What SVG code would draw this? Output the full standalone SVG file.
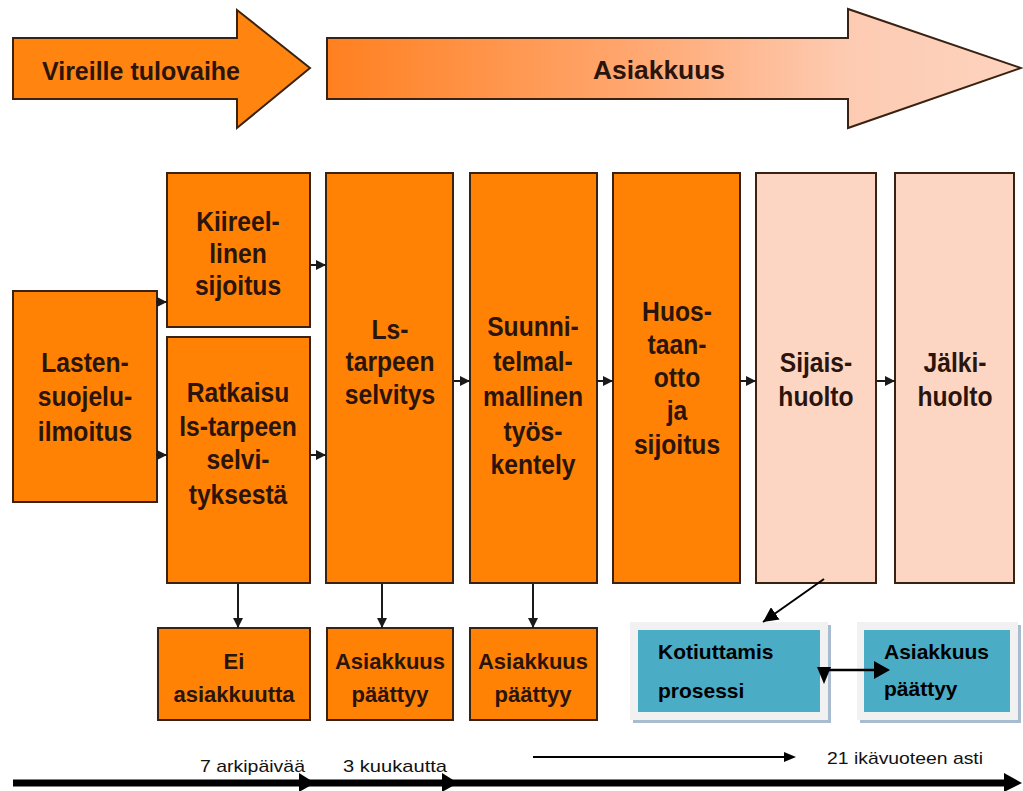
<svg xmlns="http://www.w3.org/2000/svg" width="1023" height="791" viewBox="0 0 1023 791">
<defs>
<linearGradient id="gAsi" x1="327" y1="0" x2="1022" y2="0" gradientUnits="userSpaceOnUse">
<stop offset="0" stop-color="#FF8020"/>
<stop offset="0.45" stop-color="#FFA872"/>
<stop offset="0.75" stop-color="#FDCBB2"/>
<stop offset="1" stop-color="#FDD3BF"/>
</linearGradient>
<marker id="ah" viewBox="0 0 10 10" refX="10" refY="5" markerWidth="10" markerHeight="10" markerUnits="userSpaceOnUse" orient="auto">
<path d="M0,0 L10,5 L0,10 z" fill="#1a1a1a"/>
</marker>
<marker id="ahL" viewBox="0 0 10 10" refX="10" refY="5" markerWidth="15" markerHeight="15" markerUnits="userSpaceOnUse" orient="auto">
<path d="M0,0 L10,5 L0,10 z" fill="#000"/>
</marker>
</defs>
<style>
.big{fill:#FF8205;stroke:#3a2212;stroke-width:2}
.pale{fill:#FDD6C3;stroke:#3a2212;stroke-width:2}
.t{font-family:"Liberation Sans",Arial,sans-serif;font-weight:bold;font-size:25px;fill:#2a140c;text-anchor:middle}
.tn{font-family:"Liberation Sans",Arial,sans-serif;font-weight:bold;font-size:28px;fill:#2a140c;text-anchor:middle}
.ts{font-family:"Liberation Sans",Arial,sans-serif;font-weight:bold;font-size:22px;fill:#2a140c;text-anchor:middle}
.tb{font-family:"Liberation Sans",Arial,sans-serif;font-weight:bold;font-size:21px;fill:#000}
.tl{font-family:"Liberation Sans",Arial,sans-serif;font-size:17px;fill:#111}
.c{stroke:#1a1a1a;stroke-width:2;fill:none}
.frame{fill:#F1F1F1}
.shadow{fill:#A9BCCF}
.blue{fill:#4BACC6}
</style>
<rect width="1023" height="791" fill="#fff"/>

<g id="phase-vireille">
<path d="M13,38 L237,38 L237,10 L310,68 L237,128 L237,99 L13,99 Z" fill="#FF8410" stroke="#3a2212" stroke-width="2"/>
<text x="141" y="80" class="t" textLength="198" lengthAdjust="spacingAndGlyphs">Vireille tulovaihe</text>
</g>
<g id="phase-asiakkuus">
<path d="M327,38 L848,38 L848,9 L1021,68 L848,128 L848,99 L327,99 Z" fill="url(#gAsi)" stroke="#3a2212" stroke-width="2"/>
<text x="659" y="79" class="t" font-size="26" textLength="132" lengthAdjust="spacingAndGlyphs">Asiakkuus</text>
</g>

<g id="lasten">
<rect x="13" y="291" width="144" height="211" class="big"/>
<text class="tn" transform="matrix(0.88,0,0,1,10.2,0)"><tspan x="85" y="372">Lasten-</tspan><tspan x="85" y="406">suojelu-</tspan><tspan x="85" y="441">ilmoitus</tspan></text>
</g>
<g id="kiireellinen">
<rect x="167" y="173" width="143" height="154" class="big"/>
<text class="tn" transform="matrix(0.88,0,0,1,28.56,0)"><tspan x="238" y="231">Kiireel-</tspan><tspan x="238" y="263">linen</tspan><tspan x="238" y="295">sijoitus</tspan></text>
</g>
<g id="ratkaisu">
<rect x="167" y="337" width="143" height="246" class="big"/>
<text class="tn" transform="matrix(0.88,0,0,1,28.56,0)"><tspan x="238" y="402">Ratkaisu</tspan><tspan x="238" y="436">ls-tarpeen</tspan><tspan x="238" y="469">selvi-</tspan><tspan x="238" y="504">tyksestä</tspan></text>
</g>
<g id="ls-tarpeen">
<rect x="326" y="173" width="127" height="410" class="big"/>
<text class="tn" transform="matrix(0.88,0,0,1,46.8,0)"><tspan x="390" y="339">Ls-</tspan><tspan x="390" y="371">tarpeen</tspan><tspan x="390" y="404">selvitys</tspan></text>
</g>
<g id="suunnitelmallinen">
<rect x="470" y="173" width="127" height="410" class="big"/>
<text class="tn" transform="matrix(0.88,0,0,1,63.96,0)"><tspan x="533" y="336">Suunni-</tspan><tspan x="533" y="371">telmal-</tspan><tspan x="533" y="406">mallinen</tspan><tspan x="533" y="441">työs-</tspan><tspan x="533" y="474">kentely</tspan></text>
</g>
<g id="huostaanotto">
<rect x="613" y="173" width="127" height="410" class="big"/>
<text class="tn" transform="matrix(0.88,0,0,1,81.24,0)"><tspan x="677" y="321">Huos-</tspan><tspan x="677" y="354">taan-</tspan><tspan x="677" y="387">otto</tspan><tspan x="677" y="420">ja</tspan><tspan x="677" y="454">sijoitus</tspan></text>
</g>
<g id="sijaishuolto">
<rect x="756" y="173" width="120" height="410" class="pale"/>
<text class="tn" transform="matrix(0.88,0,0,1,97.92,0)"><tspan x="816" y="372">Sijais-</tspan><tspan x="816" y="406">huolto</tspan></text>
</g>
<g id="jalkihuolto">
<rect x="895" y="173" width="119" height="410" class="pale"/>
<text class="tn" transform="matrix(0.88,0,0,1,114.6,0)"><tspan x="955" y="372">Jälki-</tspan><tspan x="955" y="406">huolto</tspan></text>
</g>

<g id="ei-asiakkuutta">
<rect x="158" y="628" width="152" height="92" class="big"/>
<text class="ts"><tspan x="234" y="669">Ei</tspan><tspan x="234" y="702">asiakkuutta</tspan></text>
</g>
<g id="paattyy-1">
<rect x="327" y="628" width="126" height="92" class="big"/>
<text class="ts"><tspan x="390" y="669">Asiakkuus</tspan><tspan x="390" y="702">päättyy</tspan></text>
</g>
<g id="paattyy-2">
<rect x="470" y="628" width="127" height="92" class="big"/>
<text class="ts"><tspan x="533" y="669">Asiakkuus</tspan><tspan x="533" y="702">päättyy</tspan></text>
</g>
<g id="kotiuttamis">
<rect x="633" y="625" width="198" height="98" class="shadow"/>
<rect x="630" y="622" width="198" height="98" class="frame"/>
<rect x="638" y="630" width="182" height="82" class="blue"/>
<text class="tb"><tspan x="658" y="659">Kotiuttamis</tspan><tspan x="658" y="698">prosessi</tspan></text>
</g>
<g id="asiakkuus-paattyy">
<rect x="860" y="625" width="161" height="98" class="shadow"/>
<rect x="857" y="622" width="161" height="98" class="frame"/>
<rect x="864" y="630" width="146" height="82" class="blue"/>
<text class="tb"><tspan x="884" y="659">Asiakkuus</tspan><tspan x="884" y="696">päättyy</tspan></text>
</g>

<g id="connectors">
<line x1="156" y1="302" x2="167" y2="302" class="c" marker-end="url(#ah)"/>
<line x1="156" y1="455" x2="167" y2="455" class="c" marker-end="url(#ah)"/>
<line x1="311" y1="265" x2="326" y2="265" class="c" marker-end="url(#ah)"/>
<line x1="311" y1="455" x2="326" y2="455" class="c" marker-end="url(#ah)"/>
<line x1="454" y1="381" x2="470" y2="381" class="c" marker-end="url(#ah)"/>
<line x1="597" y1="381" x2="613" y2="381" class="c" marker-end="url(#ah)"/>
<line x1="740" y1="381" x2="756" y2="381" class="c" marker-end="url(#ah)"/>
<line x1="877" y1="381" x2="895" y2="381" class="c" marker-end="url(#ah)"/>
<line x1="238" y1="584" x2="238" y2="628" class="c" marker-end="url(#ah)"/>
<line x1="382" y1="584" x2="382" y2="628" class="c" marker-end="url(#ah)"/>
<line x1="533" y1="584" x2="533" y2="628" class="c" marker-end="url(#ah)"/>
<line x1="824" y1="579" x2="763" y2="622" stroke="#000" stroke-width="2" marker-end="url(#ahL)"/>
<line x1="824" y1="670" x2="880" y2="670" stroke="#000" stroke-width="2.5"/>
<polygon points="817,667 831,667 824,684" fill="#000"/>
<polygon points="874,661 890,670 874,679" fill="#000"/>
<line x1="13" y1="783" x2="1010" y2="783" stroke="#000" stroke-width="7"/>
<polygon points="299,773 315,783 299,792" fill="#000"/>
<polygon points="442,773 458,783 442,792" fill="#000"/>
<polygon points="1004,773 1022,783 1004,792" fill="#000"/>
<line x1="533" y1="757" x2="786" y2="757" stroke="#000" stroke-width="2"/>
<polygon points="784,752 796,757 784,762" fill="#000"/>
</g>
<g id="timeline-labels">
<text x="200" y="772" class="tl" textLength="105" lengthAdjust="spacingAndGlyphs">7 arkipäivää</text>
<text x="343" y="772" class="tl" textLength="104" lengthAdjust="spacingAndGlyphs">3 kuukautta</text>
<text x="827" y="764" class="tl" textLength="156" lengthAdjust="spacingAndGlyphs">21 ikävuoteen asti</text>
</g>
</svg>
